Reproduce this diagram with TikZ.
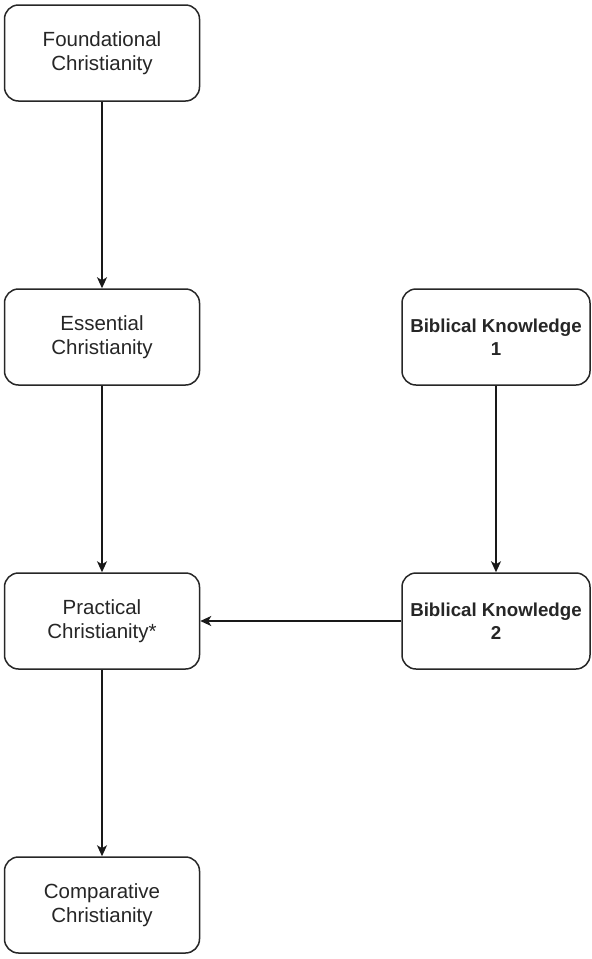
\documentclass[tikz,border=0pt]{standalone}
\usepackage{fontspec}
\setmainfont{Liberation Sans}
\usetikzlibrary{arrows.meta}
\definecolor{txt}{HTML}{262626}
\tikzset{
  box/.style={draw=black!85, line width=1.5pt, rounded corners=14pt, fill=white,
    minimum width=195pt, minimum height=96pt, inner sep=0pt, align=center,
    text=txt, font=\fontsize{20.5}{24}\selectfont},
  rbox/.style={box, minimum width=188pt, font=\bfseries\fontsize{18.7}{23}\selectfont},
  arr/.style={draw=black!90, line width=1.5pt, -{Stealth[length=11pt,width=10pt,inset=3pt]}}
}
\begin{document}
\begin{tikzpicture}[x=1pt,y=-1pt]
\useasboundingbox (0,0) rectangle (592,959);
\node[box] (f) at (102,53) {Foundational\\Christianity};
\node[box] (e) at (102,337) {Essential\\Christianity};
\node[box] (p) at (102,621) {Practical\\Christianity*};
\node[box] (c) at (102,905) {Comparative\\Christianity};
\node[rbox] (b1) at (496,337) {Biblical Knowledge\\1};
\node[rbox] (b2) at (496,621) {Biblical Knowledge\\2};
\draw[arr] (f) -- (e);
\draw[arr] (e) -- (p);
\draw[arr] (p) -- (c);
\draw[arr] (b1) -- (b2);
\draw[arr] (b2) -- (p);
\end{tikzpicture}
\end{document}
